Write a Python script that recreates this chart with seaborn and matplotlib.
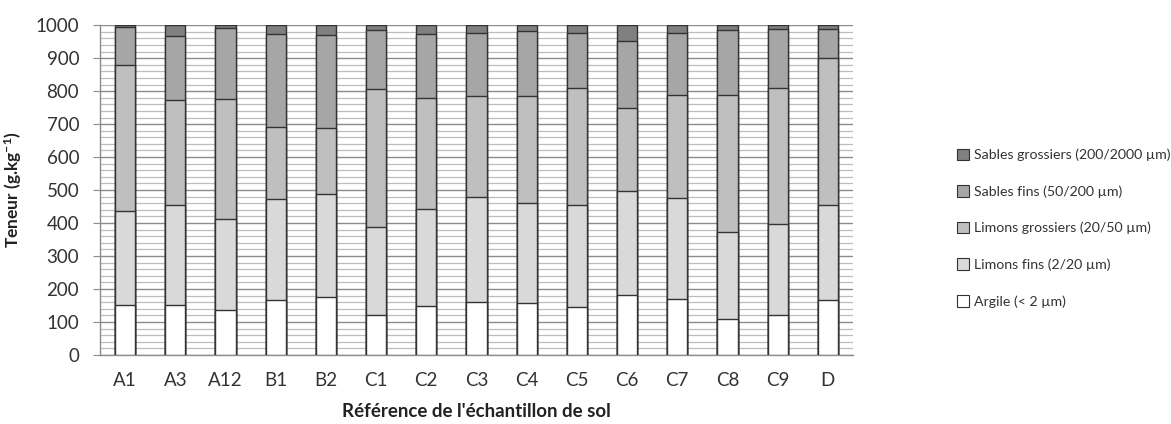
import numpy as np
import pandas as pd
import matplotlib
matplotlib.use("Agg")
import matplotlib.pyplot as plt
import seaborn as sns
from matplotlib.patches import Patch
from matplotlib.ticker import MultipleLocator, FixedLocator

sns.set_style("white")
plt.rcParams["font.family"] = ["Lato", "DejaVu Sans"]
plt.rcParams["mathtext.fontset"] = "custom"
plt.rcParams["mathtext.rm"] = "Lato"
plt.rcParams["mathtext.bf"] = "Lato:bold"
plt.rcParams["mathtext.it"] = "Lato:italic"

# Echantillons et teneurs (g/kg)
samples = ["A1", "A3", "A12", "B1", "B2", "C1", "C2", "C3",
           "C4", "C5", "C6", "C7", "C8", "C9", "D"]
argile = [152, 152, 137, 167, 177, 122, 148, 160, 158, 145, 183, 170, 109, 121, 167]
limons_fins = [285, 303, 276, 306, 311, 266, 295, 320, 303, 310, 314, 306, 263, 276, 287]
limons_grossiers = [443, 318, 364, 219, 200, 418, 336, 305, 324, 355, 252, 312, 416, 413, 445]
sables_fins = [113, 194, 213, 280, 281, 178, 193, 190, 196, 167, 202, 189, 196, 177, 88]
sables_grossiers = [7, 33, 10, 28, 31, 16, 28, 25, 19, 23, 49, 23, 16, 13, 13]

labels = ["Argile (< 2 µm)", "Limons fins (2/20 µm)",
          "Limons grossiers (20/50 µm)", "Sables fins (50/200 µm)",
          "Sables grossiers (200/2000 µm)"]
colors = ["#ffffff", "#d9d9d9", "#bfbfbf", "#a6a6a6", "#808080"]

df = pd.DataFrame({
    "sample": samples,
    labels[0]: argile,
    labels[1]: limons_fins,
    labels[2]: limons_grossiers,
    labels[3]: sables_fins,
    labels[4]: sables_grossiers,
})
cum = df[labels].cumsum(axis=1)

fig = plt.figure(figsize=(11.71, 4.24), dpi=100)
ax = fig.add_axes([0.0854, 0.1627, 0.643, 0.778])
ax.set_axisbelow(True)

# draw from top layer to bottom so each layer overlaps the previous
for lab, col in zip(labels[::-1], colors[::-1]):
    sns.barplot(x=df["sample"], y=cum[lab], color=col, saturation=1,
                width=0.4, edgecolor="#333333", linewidth=1.0, ax=ax, zorder=3)

ax.set_ylim(0, 1000)
ax.set_xlim(-0.5, len(samples) - 0.5)
ax.yaxis.set_major_locator(MultipleLocator(100))
ax.yaxis.set_minor_locator(MultipleLocator(20))
ax.grid(axis="y", which="major", color="#8c8c8c", lw=1.0, zorder=0)
ax.grid(axis="y", which="minor", color="#bdbdbd", lw=0.9, zorder=0)
ax.grid(axis="x", visible=False)

ax.xaxis.set_minor_locator(FixedLocator(np.arange(-0.5, len(samples), 1)))
ax.tick_params(axis="x", which="major", length=0, labelsize=13.5, colors="#333333", pad=12)
ax.tick_params(axis="x", which="minor", length=4, color="#8c8c8c")
ax.tick_params(axis="y", which="major", length=5, color="#8c8c8c", labelsize=13.5,
               labelcolor="#333333", left=True, pad=10)
ax.tick_params(axis="y", which="minor", length=0)

for side in ["top", "right"]:
    ax.spines[side].set_visible(False)
for side in ["left", "bottom"]:
    ax.spines[side].set_color("#8c8c8c")
    ax.spines[side].set_linewidth(1.0)

ax.set_xlabel("Référence de l'échantillon de sol", fontsize=13.5, fontweight="bold",
              color="#222222", labelpad=10)
ax.set_ylabel(r"Teneur (g.kg$^{\mathbf{-1}}$)", fontsize=12.5, fontweight="bold",
              color="#222222", labelpad=8)

handles = [Patch(facecolor=c, edgecolor="#333333", lw=0.8, label=l)
           for l, c in zip(labels[::-1], colors[::-1])]
fig.legend(handles=handles, loc="center left", bbox_to_anchor=(0.806, 0.462),
           frameon=False, fontsize=10.2, handlelength=0.9, handleheight=0.9,
           handletextpad=0.3, labelspacing=1.68, labelcolor="#333333")

fig.savefig("out.png", dpi=100)
